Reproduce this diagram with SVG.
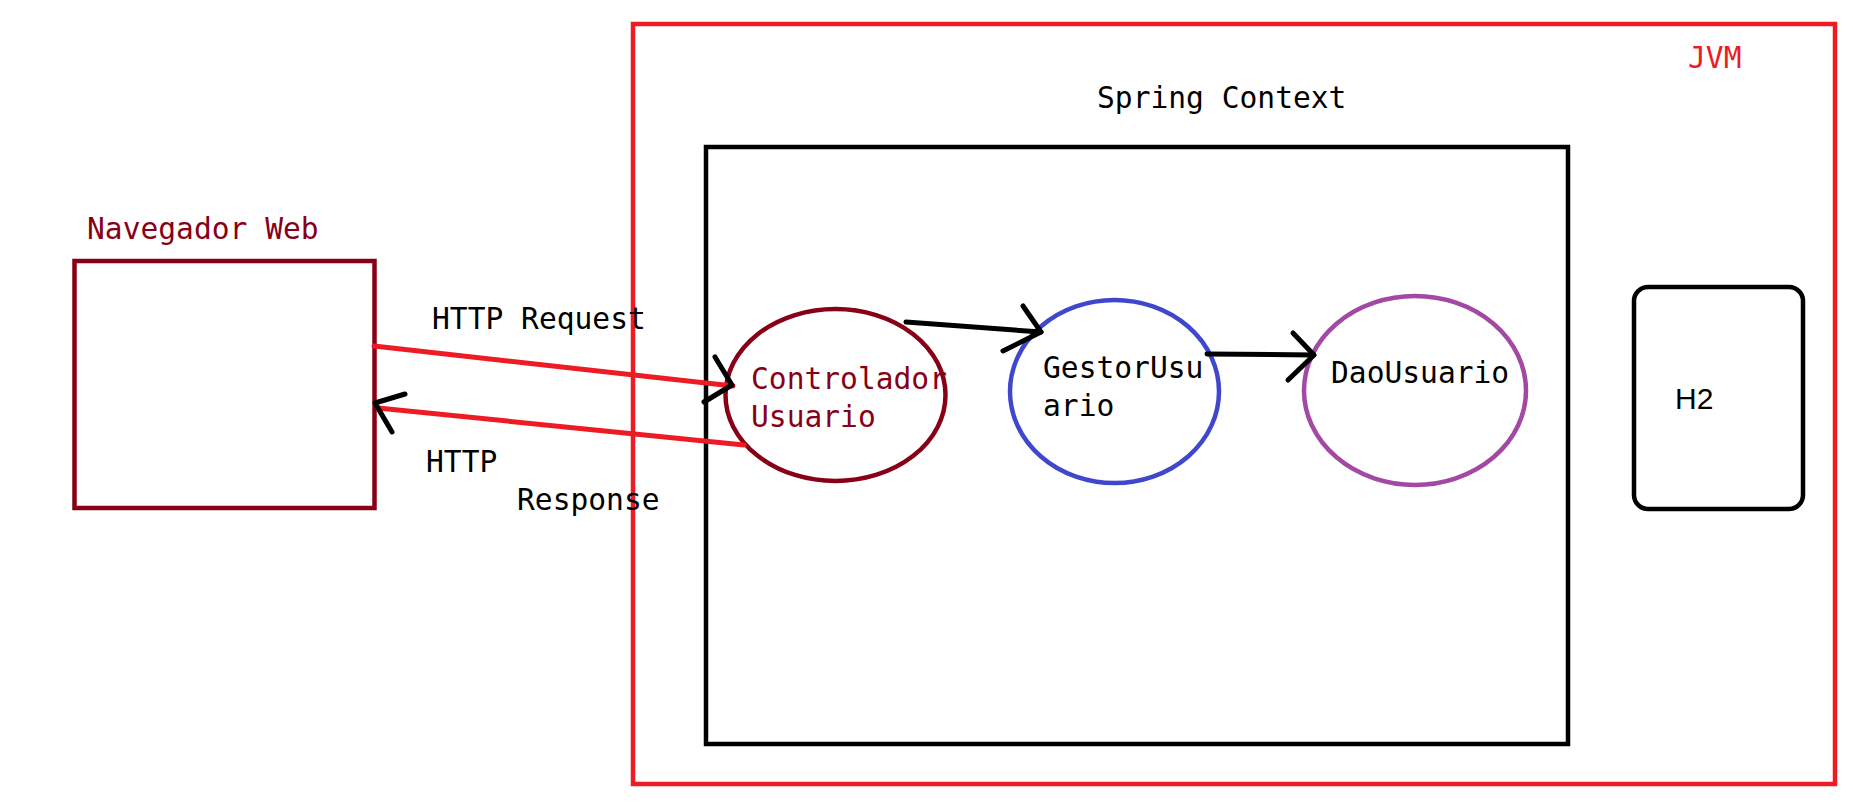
<svg xmlns="http://www.w3.org/2000/svg" width="1853" height="802" viewBox="0 0 1853 802">
<style>
.t{font-family:"DejaVu Sans Mono","Liberation Mono",monospace;font-size:29.6px;fill:#000}
.dr{fill:#880015}
.box{fill:none;stroke-width:4.5}
.ln{fill:none;stroke-width:5;stroke-linecap:round;stroke-linejoin:round}
.blk{stroke:#000}
.red{stroke:#ED1C24}
</style>
<rect width="1853" height="802" fill="#fff"/>
<g id="jvm">
<rect class="box red" x="633" y="24" width="1202" height="760"/>
<text class="t" x="1688" y="68" style="fill:#ED1C24">JVM</text>
</g>
<g id="spring-context">
<rect class="box blk" x="706" y="147" width="862" height="597"/>
<text class="t" x="1097" y="108">Spring Context</text>
</g>
<g id="navegador">
<rect class="box" stroke="#880015" x="74.5" y="261" width="300" height="247"/>
<text class="t dr" x="87" y="239">Navegador Web</text>
</g>
<g id="controlador">
<ellipse cx="835.5" cy="395" rx="110" ry="86" fill="none" stroke="#880015" stroke-width="4.5"/>
<text class="t dr" x="751" y="389">Controlador</text>
<text class="t dr" x="751" y="427">Usuario</text>
</g>
<g id="gestor">
<ellipse cx="1114.5" cy="391.5" rx="104.5" ry="91.5" fill="none" stroke="#3F48CC" stroke-width="4.5"/>
<text class="t" x="1043" y="378">GestorUsu</text>
<text class="t" x="1043" y="416">ario</text>
</g>
<g id="dao">
<ellipse cx="1415" cy="390.5" rx="111" ry="94.5" fill="none" stroke="#A349A4" stroke-width="4.5"/>
<text class="t" x="1331" y="383">DaoUsuario</text>
</g>
<g id="h2">
<rect class="box blk" x="1634" y="287" width="169" height="222" rx="14"/>
<text x="1675" y="409" style="font-family:'Liberation Sans',Arial,sans-serif;font-size:30px">H2</text>
</g>
<g id="connectors">
<line class="ln red" x1="374" y1="346" x2="733" y2="386"/>
<polyline class="ln blk" points="715,357 732,385 704,402"/>
<line class="ln red" x1="744" y1="445" x2="378" y2="408"/>
<polyline class="ln blk" points="405,394 375,403 392,432"/>
<text class="t" x="432" y="329">HTTP Request</text>
<text class="t" x="426" y="472">HTTP</text>
<text class="t" x="517" y="510">Response</text>
<line class="ln blk" x1="906" y1="322" x2="1041" y2="332"/>
<polyline class="ln blk" points="1023,306 1041,332 1003,351"/>
<line class="ln blk" x1="1207" y1="354" x2="1314" y2="355"/>
<polyline class="ln blk" points="1293,333 1314,355 1288,380"/>
</g>
</svg>
